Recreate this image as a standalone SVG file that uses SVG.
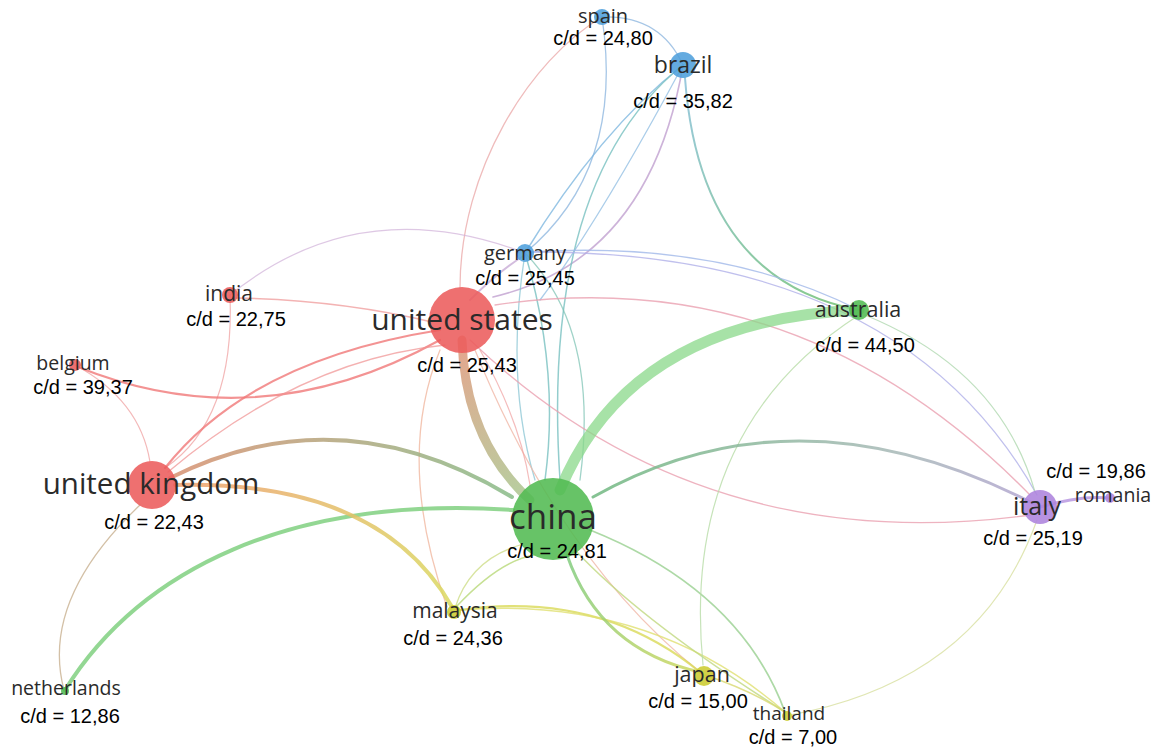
<svg xmlns="http://www.w3.org/2000/svg" width="1158" height="751" viewBox="0 0 1158 751">
<style>
.e{fill:none;stroke-linecap:round}
.lbl{font-family:"Open Sans","Noto Sans",sans-serif;fill:#2a2a2a;text-anchor:middle}
.cd{font-family:"Liberation Sans",Arial,sans-serif;font-size:20px;fill:#000;text-anchor:middle}
.red{fill:#ec5c5c;fill-opacity:0.88}
.green{fill:#52bb52;fill-opacity:0.88}
.blue{fill:#4f9fdc;fill-opacity:0.88}
.yellow{fill:#cccc30;fill-opacity:0.88}
.purple{fill:#ad83dd;fill-opacity:0.88}
</style>
<defs>
<linearGradient id="gUsCn" gradientUnits="userSpaceOnUse" x1="462" y1="340" x2="535" y2="500"><stop offset="0" stop-color="#e0967a"/><stop offset="1" stop-color="#a8c890"/></linearGradient>
<linearGradient id="gUkCn" gradientUnits="userSpaceOnUse" x1="170" y1="478" x2="512" y2="497"><stop offset="0" stop-color="#d89070"/><stop offset="1" stop-color="#88bb88"/></linearGradient>
<linearGradient id="gUkMy" gradientUnits="userSpaceOnUse" x1="175" y1="485" x2="452" y2="607"><stop offset="0" stop-color="#eea070"/><stop offset="1" stop-color="#dada60"/></linearGradient>
<linearGradient id="gCnIt" gradientUnits="userSpaceOnUse" x1="593" y1="497" x2="1110" y2="500"><stop offset="0" stop-color="#70b880"/><stop offset="0.6" stop-color="#a8b8b8"/><stop offset="1" stop-color="#b898e0"/></linearGradient>
<linearGradient id="gCnJp" gradientUnits="userSpaceOnUse" x1="567" y1="555" x2="700" y2="672"><stop offset="0" stop-color="#80cc80"/><stop offset="1" stop-color="#d0d860"/></linearGradient>
<linearGradient id="gBrAu" gradientUnits="userSpaceOnUse" x1="685" y1="78" x2="859" y2="310"><stop offset="0" stop-color="#88c0d8"/><stop offset="1" stop-color="#70c070"/></linearGradient>
</defs>

<g id="connectors">
<path class="e" d="M460,288 C460,170 530,60 602,17" stroke="#e8a0a0" stroke-width="1.3" opacity="0.7"/>
<path class="e" d="M602,17 Q660,15 683,65" stroke="#90b8e0" stroke-width="1.3" opacity="0.8"/>
<path class="e" d="M602,17 Q625,170 525,253" stroke="#90b8e0" stroke-width="1.3" opacity="0.8"/>
<path class="e" d="M683,65 Q600,130 525,253" stroke="#80b8e0" stroke-width="1.5" opacity="0.8"/>
<path class="e" d="M683,65 Q650,260 493,297" stroke="#c0a0d0" stroke-width="1.6" opacity="0.8"/>
<path class="e" d="M683,65 Q540,180 560,480" stroke="#78c0c0" stroke-width="1.5" opacity="0.8"/>
<path class="e" d="M683,65 Q600,220 540,300" stroke="#88b8e0" stroke-width="1.3" opacity="0.7"/>
<path class="e" d="M685,78 Q700,280 859,310" stroke="url(#gBrAu)" stroke-width="2" opacity="0.85"/>
<path class="e" d="M525,253 Q560,370 545,480" stroke="#78c0c0" stroke-width="1.5" opacity="0.8"/>
<path class="e" d="M525,253 Q505,380 535,480" stroke="#80c0d0" stroke-width="1.3" opacity="0.7"/>
<path class="e" d="M525,253 Q600,330 580,480" stroke="#78c0b0" stroke-width="1.3" opacity="0.7"/>
<path class="e" d="M530,252 Q720,240 859,310" stroke="#a0b8e8" stroke-width="1.3" opacity="0.8"/>
<path class="e" d="M530,252 Q900,250 1037,495" stroke="#b0b0e8" stroke-width="1.3" opacity="0.8"/>
<path class="e" d="M230,295 Q360,190 525,253" stroke="#d0b0d8" stroke-width="1.2" opacity="0.7"/>
<path class="e" d="M470,300 Q500,270 525,255" stroke="#c0a0d0" stroke-width="2" opacity="0.7"/>
<path class="e" d="M495,305 Q800,260 1030,495" stroke="#eaa0b0" stroke-width="1.3" opacity="0.8"/>
<path class="e" d="M470,340 Q700,560 1030,515" stroke="#eaa0b0" stroke-width="1.3" opacity="0.8"/>
<path class="e" d="M236,298 Q340,300 432,322" stroke="#f0a0a0" stroke-width="1.5" opacity="0.8"/>
<path class="e" d="M230,295 Q235,420 165,468" stroke="#f0a8a8" stroke-width="1.2" opacity="0.8"/>
<path class="e" d="M75,365 Q140,400 150,462" stroke="#f0a8a8" stroke-width="1.2" opacity="0.8"/>
<path class="e" d="M78,367 Q260,440 440,340" stroke="#f07878" stroke-width="2.2" opacity="0.8"/>
<path class="e" d="M165,468 Q250,360 440,330" stroke="#f07878" stroke-width="2.2" opacity="0.8"/>
<path class="e" d="M168,472 Q300,360 445,345" stroke="#f09090" stroke-width="1.4" opacity="0.7"/>
<path class="e" d="M140,505 Q40,600 64,690" stroke="#c8b090" stroke-width="1.3" opacity="0.8"/>
<path class="e" d="M447,607 Q395,460 440,350" stroke="#f0b8a0" stroke-width="1.3" opacity="0.8"/>
<path class="e" d="M475,350 Q560,560 700,672" stroke="#f0b8a8" stroke-width="1.2" opacity="0.8"/>
<path class="e" d="M480,350 Q520,420 530,485" stroke="#f0a0a0" stroke-width="1.2" opacity="0.7"/>
<path class="e" d="M456,607 Q500,560 535,555" stroke="#b8d878" stroke-width="1.5" opacity="0.8"/>
<path class="e" d="M455,608 Q470,560 520,545" stroke="#c8d878" stroke-width="1.3" opacity="0.7"/>
<path class="e" d="M460,610 Q600,590 700,672" stroke="#dada58" stroke-width="2.2" opacity="0.8"/>
<path class="e" d="M460,610 Q650,595 785,712" stroke="#e0e070" stroke-width="1.5" opacity="0.8"/>
<path class="e" d="M567,555 Q600,650 700,672" stroke="url(#gCnJp)" stroke-width="3" opacity="0.85"/>
<path class="e" d="M575,550 Q640,620 785,712" stroke="#c0d880" stroke-width="1.5" opacity="0.8"/>
<path class="e" d="M590,530 Q740,590 785,712" stroke="#98d090" stroke-width="1.8" opacity="0.8"/>
<path class="e" d="M859,315 Q680,430 703,665" stroke="#b8dca8" stroke-width="1.2" opacity="0.8"/>
<path class="e" d="M1037,520 Q980,680 790,715" stroke="#d8e0a0" stroke-width="1.2" opacity="0.8"/>
<path class="e" d="M865,315 Q1000,370 1035,492" stroke="#b0d8b0" stroke-width="1.2" opacity="0.8"/>
<path class="e" d="M705,675 Q750,690 785,712" stroke="#d8d870" stroke-width="1.5" opacity="0.8"/>
<path class="e" d="M65,690 C140,570 290,495 513,510" stroke="#80d080" stroke-width="4" opacity="0.85"/>
<path class="e" d="M175,485 Q380,480 452,607" stroke="url(#gUkMy)" stroke-width="4" opacity="0.85"/>
<path class="e" d="M170,478 Q340,393 512,497" stroke="url(#gUkCn)" stroke-width="4" opacity="0.85"/>
<path class="e" d="M593,497 Q800,380 1040,507" stroke="url(#gCnIt)" stroke-width="3" opacity="0.85"/>
<path class="e" d="M1040,507 Q1080,495 1110,498" stroke="#b898e0" stroke-width="3" opacity="0.85"/>
<path class="e" d="M462,340 Q465,440 530,500" stroke="url(#gUsCn)" stroke-width="9" opacity="0.85"/>
<path class="e" d="M560,490 Q630,320 859,310" stroke="#8ad88a" stroke-width="11" opacity="0.75"/>
</g>

<g id="node-spain"><circle class="blue" cx="602" cy="17" r="8"/><text class="lbl" x="603" y="23" font-size="20">spain</text><text class="cd" x="603" y="45">c/d = 24,80</text></g>
<g id="node-brazil"><circle class="blue" cx="683" cy="65" r="13"/><text class="lbl" x="683" y="73" font-size="23">brazil</text><text class="cd" x="683" y="108">c/d = 35,82</text></g>
<g id="node-germany"><circle class="blue" cx="525" cy="253" r="9"/><text class="lbl" x="525" y="260" font-size="20">germany</text><text class="cd" x="525" y="285">c/d = 25,45</text></g>
<g id="node-united-states"><circle class="red" cx="462" cy="320" r="33"/><text class="lbl" x="462" y="330" font-size="30">united states</text><text class="cd" x="467" y="372">c/d = 25,43</text></g>
<g id="node-india"><circle class="red" cx="230" cy="295" r="8"/><text class="lbl" x="229" y="301" font-size="21">india</text><text class="cd" x="236" y="326">c/d = 22,75</text></g>
<g id="node-belgium"><circle class="red" cx="75" cy="365" r="6"/><text class="lbl" x="73" y="370" font-size="19.5">belgium</text><text class="cd" x="83" y="394">c/d = 39,37</text></g>
<g id="node-united-kingdom"><circle class="red" cx="152" cy="485" r="24"/><text class="lbl" x="151" y="494" font-size="29.5">united kingdom</text><text class="cd" x="154" y="529">c/d = 22,43</text></g>
<g id="node-china"><circle class="green" cx="553" cy="519" r="41"/><text class="lbl" x="553" y="529" font-size="35">china</text><text class="cd" x="557" y="558">c/d = 24,81</text></g>
<g id="node-australia"><circle class="green" cx="859" cy="310" r="10"/><text class="lbl" x="858" y="317" font-size="21.5">australia</text><text class="cd" x="865" y="352">c/d = 44,50</text></g>
<g id="node-italy"><circle class="purple" cx="1040" cy="507" r="17"/><text class="lbl" x="1037" y="515" font-size="25">italy</text><text class="cd" x="1033" y="545">c/d = 25,19</text></g>
<g id="node-romania"><circle class="purple" cx="1110" cy="498" r="5"/><text class="lbl" x="1113" y="502" font-size="19.5">romania</text><text class="cd" x="1096" y="478">c/d = 19,86</text></g>
<g id="node-malaysia"><circle class="yellow" cx="454" cy="612" r="7"/><text class="lbl" x="455" y="618" font-size="21">malaysia</text><text class="cd" x="453" y="645">c/d = 24,36</text></g>
<g id="node-japan"><circle class="yellow" cx="704" cy="676" r="10"/><text class="lbl" x="702" y="682" font-size="21.5">japan</text><text class="cd" x="698" y="708">c/d = 15,00</text></g>
<g id="node-thailand"><circle class="yellow" cx="787" cy="716" r="5"/><text class="lbl" x="789" y="720" font-size="19">thailand</text><text class="cd" x="793" y="744">c/d = 7,00</text></g>
<g id="node-netherlands"><circle class="green" cx="65" cy="691" r="4"/><text class="lbl" x="66" y="695" font-size="19.5">netherlands</text><text class="cd" x="70" y="723">c/d = 12,86</text></g>
</svg>
